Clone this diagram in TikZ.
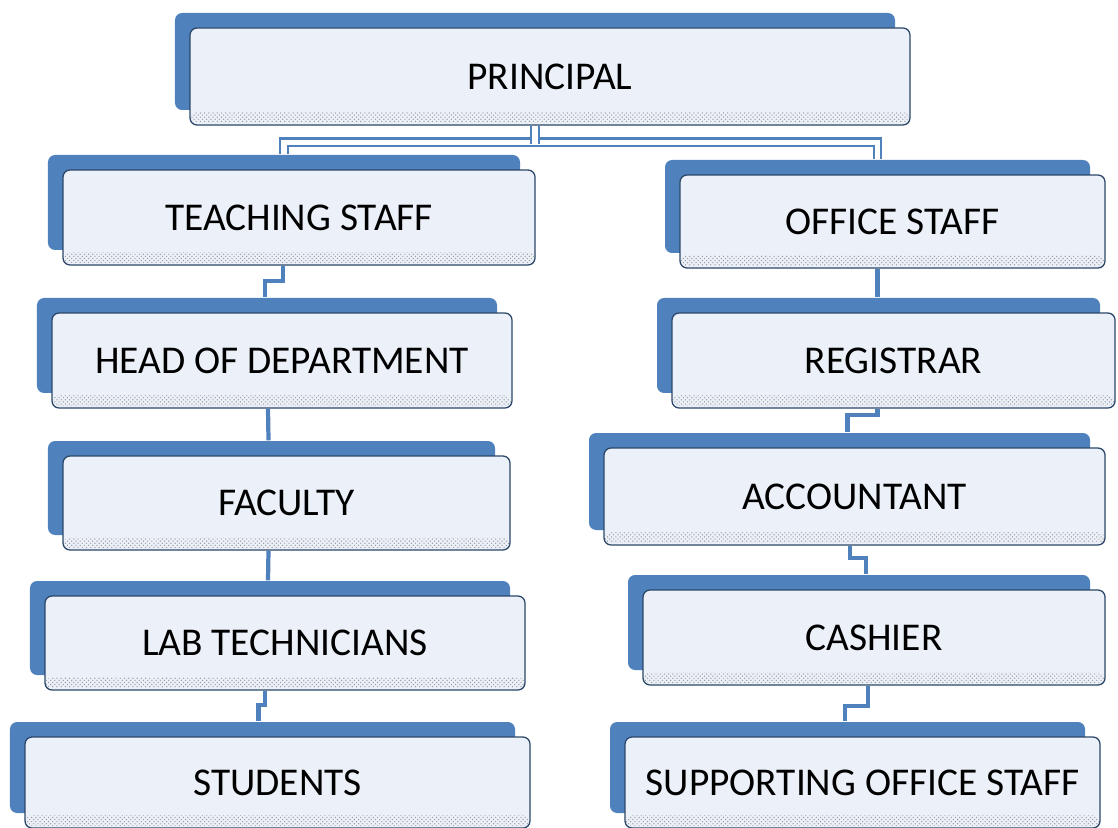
\documentclass[tikz,border=0pt]{standalone}
\usepackage{fontspec}
\setmainfont{Carlito}
\usepackage{tikz}
\usetikzlibrary{shadows,patterns}

\definecolor{boxblue}{HTML}{4F81BD}
\definecolor{boxfill}{HTML}{ECF1F9}

\begin{document}
\begin{tikzpicture}[x=0.025cm,y=-0.025cm]
      \tikzstyle{unit}=[rectangle,rounded corners=5pt,fill=boxfill,
                        draw=boxblue!55!black,line width=0.9pt,inner sep=0pt,
                        font=\fontsize{28}{32}\selectfont,
                        copy shadow={shadow xshift=-0.375cm,shadow yshift=0.375cm,
                                     fill=boxblue,draw=none},
                        path picture={\fill[pattern=crosshatch dots,pattern color=gray!80]
                            ([yshift=1.5pt]path picture bounding box.south west) rectangle
                            ([yshift=9pt]path picture bounding box.south east);}]
      \tikzset{boxsize/.style 2 args={minimum width=#1*0.025cm,minimum height=#2*0.025cm}}
      \tikzstyle{link}=[draw=boxblue,line width=3pt]
      \tikzstyle{mainlink}=[link,line width=1.5pt,double=white,double distance=4pt]

      \useasboundingbox (0,0) rectangle (1118,828);

      \node[unit,boxsize={720}{97}] (ps)   at (550,76.5)   {PRINCIPAL};
      \node[unit,boxsize={472}{95}] (ts)   at (299,217.5)  {TEACHING STAFF};
      \node[unit,boxsize={425}{93}] (os)   at (892.5,221.5) {OFFICE STAFF};
      \node[unit,boxsize={460}{95}] (hod)  at (282,360.5)  {HEAD OF DEPARTMENT};
      \node[unit,boxsize={443}{95}] (reg)  at (893.5,360.5) {REGISTRAR};
      \node[unit,boxsize={447}{94}] (fac)  at (286.5,503)  {FACULTY};
      \node[unit,boxsize={501}{97}] (acc)  at (854.5,496.5) {ACCOUNTANT};
      \node[unit,boxsize={480}{94}] (lab)  at (285,643)    {LAB TECHNICIANS};
      \node[unit,boxsize={462}{95}] (cash) at (874,637.5)  {CASHIER};
      \node[unit,boxsize={505}{91}] (stu)  at (277.5,782.5) {STUDENTS};
      \node[unit,boxsize={475}{91}] (sup)  at (862.5,782.5) {SUPPORTING OFFICE STAFF};

      % principal to the two staff groups
      \draw[mainlink] ([shift={(-15,-15)}]ts.north) -- ++(0,-12) -| ([shift={(-15,-15)}]os.north);
      \draw[mainlink] ([shift={(-15,0)}]ps.south) -- ++(0,18);

      % teaching side
      \draw[link] ([shift={(-16,0)}]ts.south) -- ++(0,15) -| ([shift={(-17,-15)}]hod.north);
      \draw[link] ([shift={(-14,0)}]hod.south) -- ([shift={(-18,-15)}]fac.north);
      \draw[link] ([shift={(-18,0)}]fac.south) -- ([shift={(-17,-15)}]lab.north);
      \draw[link] ([shift={(-20,0)}]lab.south) -- ++(0,14) -| ([shift={(-19,-15)}]stu.north);

      % office side
      \draw[link] ([shift={(-15,0)}]os.south) -- ([shift={(-16,-15)}]reg.north);
      \draw[link] ([shift={(-16,0)}]reg.south) -- ++(0,6) -| ([shift={(-7,-15)}]acc.north);
      \draw[link] ([shift={(-4.5,0)}]acc.south) -- ++(0,12) -| ([shift={(-8,-15)}]cash.north);
      \draw[link] ([shift={(-6,0)}]cash.south) -- ++(0,20) -| ([shift={(-17.5,-15)}]sup.north);

\end{tikzpicture}
\end{document}
